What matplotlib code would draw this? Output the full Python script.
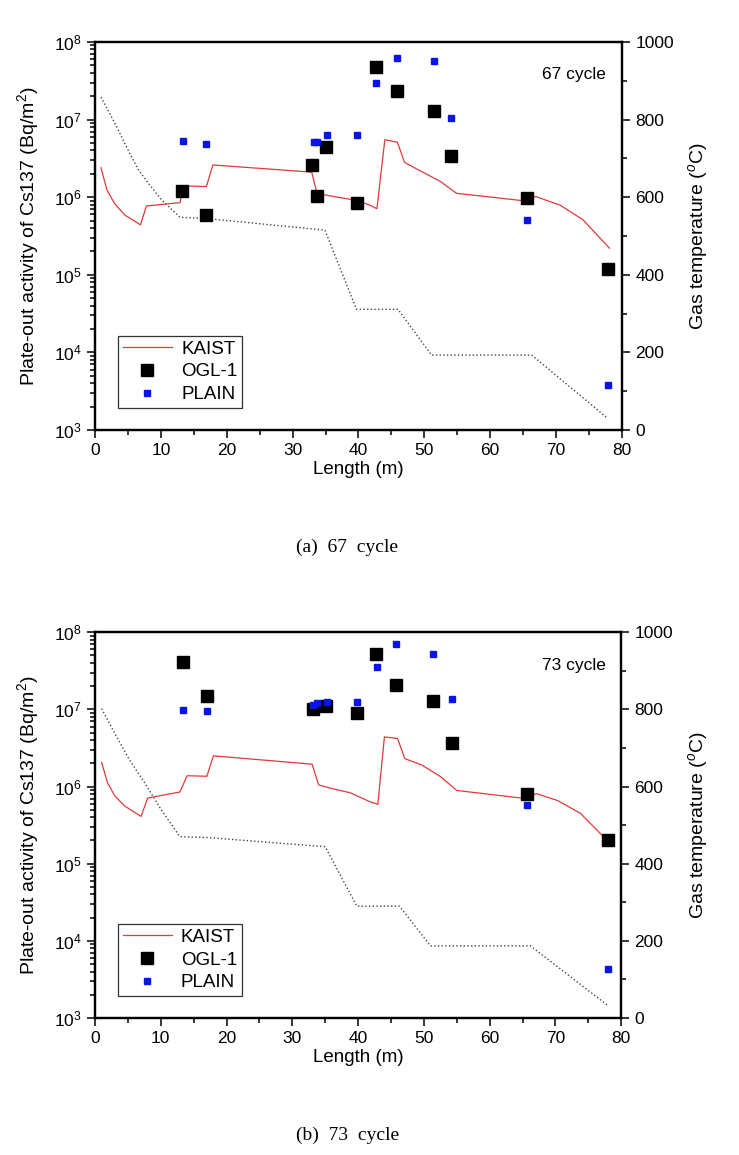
import numpy as np
import matplotlib
matplotlib.use("Agg")
import matplotlib.pyplot as plt
from matplotlib.ticker import MultipleLocator, LogLocator, FuncFormatter

plt.rcParams["font.family"] = ["Liberation Sans", "DejaVu Sans"]
plt.rcParams["mathtext.fontset"] = "custom"
plt.rcParams["mathtext.rm"] = "Liberation Sans"
plt.rcParams["mathtext.it"] = "Liberation Sans:italic"

# ---- (a) 67 cycle ----
kaist_x_67 = [0.9, 1.8, 3.0, 4.5, 6.9, 7.8, 12.9, 13.4, 16.9, 17.9, 32.9, 33.7, 36.2,
              39.7, 41.7, 42.8, 44.0, 45.9, 47.0, 49.3, 52.4, 54.9, 65.0, 66.9, 70.6, 74.1, 78.1]
kaist_y_67 = [2.4e6, 1.24e6, 8.2e5, 5.9e5, 4.4e5, 7.7e5, 8.5e5, 1.4e6, 1.37e6, 2.6e6, 2.1e6,
              1.12e6, 1.02e6, 9.1e5, 7.9e5, 7.1e5, 5.5e6, 5.1e6, 2.8e6, 2.2e6, 1.6e6, 1.12e6,
              9.0e5, 1.02e6, 7.9e5, 5.1e5, 2.2e5]
ogl_x_67 = [13.25, 16.9, 32.9, 33.7, 35.1, 39.7, 42.6, 45.8, 51.4, 54.1, 65.6, 77.9]
ogl_y_67 = [1.2e6, 5.9e5, 2.6e6, 1.02e6, 4.4e6, 8.5e5, 4.8e7, 2.3e7, 1.29e7, 3.4e6, 9.7e5, 1.2e5]
plain_x_67 = [13.3, 16.9, 33.2, 33.7, 35.2, 39.7, 42.7, 45.8, 51.4, 54.1, 65.6, 77.9]
plain_y_67 = [5.3e6, 4.9e6, 5.2e6, 5.2e6, 6.3e6, 6.3e6, 3.0e7, 6.3e7, 5.7e7, 1.06e7, 5.1e5, 3.8e3]
temp_x_67 = [0.9, 3.0, 5.0, 6.6, 8.1, 10.1, 12.9, 16.9, 34.9, 39.7, 46.0, 51.1, 66.3, 77.7]
temp_y_67 = [858, 791, 722, 670, 636, 593, 548, 545, 515, 311, 311, 193, 193, 32]

# ---- (b) 73 cycle ----
kaist_x_73 = [1.0, 1.9, 3.0, 4.5, 7.0, 8.0, 12.9, 14.0, 17.0, 18.0, 33.0, 34.0, 36.3,
              38.8, 41.9, 43.0, 44.0, 46.0, 47.1, 49.7, 52.5, 55.0, 65.4, 67.1, 70.3, 73.8, 77.4]
kaist_y_73 = [2.05e6, 1.12e6, 7.6e5, 5.6e5, 4.1e5, 7.1e5, 8.5e5, 1.38e6, 1.36e6, 2.5e6, 1.95e6,
              1.05e6, 9.3e5, 8.3e5, 6.3e5, 5.9e5, 4.4e6, 4.2e6, 2.3e6, 1.9e6, 1.35e6, 8.9e5,
              7.0e5, 8.1e5, 6.6e5, 4.5e5, 2.2e5]
ogl_x_73 = [13.4, 17.0, 33.1, 35.1, 39.8, 42.7, 45.8, 51.4, 54.3, 65.7, 78.0]
ogl_y_73 = [4.1e7, 1.48e7, 1.0e7, 1.1e7, 9.0e6, 5.3e7, 2.1e7, 1.3e7, 3.7e6, 8.1e5, 2.0e5]
plain_x_73 = [13.4, 17.0, 33.2, 33.8, 35.3, 39.8, 42.8, 45.8, 51.4, 54.3, 65.7, 78.0]
plain_y_73 = [9.8e6, 9.6e6, 1.13e7, 1.2e7, 1.25e7, 1.25e7, 3.56e7, 7.0e7, 5.2e7, 1.35e7, 5.7e5, 4.3e3]
temp_x_73 = [1.0, 3.0, 5.1, 7.6, 10.1, 12.9, 17.0, 35.0, 39.8, 46.3, 51.0, 66.2, 78.0]
temp_y_73 = [802, 738, 673, 608, 539, 470, 468, 444, 290, 290, 187, 187, 32]

fig = plt.figure(figsize=(7.39, 11.55), dpi=100)


def draw_panel(rect, kx, ky, ox, oy, px, py, tx, ty, cycle_text, caption, cap_y):
    ax = fig.add_axes(rect)
    ax.plot(kx, ky, color="#e03a3a", lw=0.9, label="KAIST")
    ax.plot(ox, oy, ls="none", marker="s", ms=8.5, color="black", label="OGL-1")
    ax.plot(px, py, ls="none", marker="s", ms=5, color="#0a14e6", label="PLAIN")
    ax.set_yscale("log")
    ax.set_xlim(0, 80)
    ax.set_ylim(1e3, 1e8)
    ax.xaxis.set_major_locator(MultipleLocator(10))
    ax.xaxis.set_minor_locator(MultipleLocator(5))
    ax.yaxis.set_major_locator(LogLocator(base=10, numticks=10))
    ax.yaxis.set_minor_locator(LogLocator(base=10, subs=np.arange(2, 10), numticks=10))
    ax.yaxis.set_major_formatter(FuncFormatter(lambda v, p: "$10^{%d}$" % round(np.log10(v))))
    ax.tick_params(which="both", direction="out", top=False, right=False, labelsize=12.5, width=1.1)
    ax.tick_params(which="major", length=6)
    ax.tick_params(which="minor", length=3.5)
    for s in ax.spines.values():
        s.set_linewidth(1.6)
    ax.set_xlabel("Length (m)", fontsize=13.5, labelpad=2)
    ax.set_ylabel("Plate-out activity of Cs137 (Bq/m$^2$)", fontsize=14, labelpad=9)
    ax.text(0.97, 0.915, cycle_text, transform=ax.transAxes, ha="right", va="center", fontsize=12.5)
    leg = ax.legend(loc="lower left", bbox_to_anchor=(0.044, 0.057), fontsize=13.5, frameon=True,
                    fancybox=False, edgecolor="black", handlelength=2.6, borderpad=0.25,
                    labelspacing=0.3, handletextpad=0.5, borderaxespad=0)
    leg.get_frame().set_linewidth(0.9)

    ax2 = ax.twinx()
    ax2.plot(tx, ty, color="#444444", ls=":", lw=1.0)
    ax2.set_ylim(0, 1000)
    ax2.yaxis.set_major_locator(MultipleLocator(200))
    ax2.yaxis.set_minor_locator(MultipleLocator(100))
    ax2.tick_params(which="both", direction="out", labelsize=12.5, width=1.1)
    ax2.tick_params(which="major", length=6)
    ax2.tick_params(which="minor", length=3.5)
    ax2.set_ylabel("Gas temperature ($^o$C)", fontsize=14, labelpad=9)
    for s in ax2.spines.values():
        s.set_linewidth(1.6)
    ax.set_zorder(ax2.get_zorder() + 1)
    ax.patch.set_visible(False)

    fig.text(0.47, cap_y, caption, ha="center", va="center", fontsize=14,
             family=["Liberation Serif", "DejaVu Serif"])


draw_panel([0.1286, 0.6277, 0.713, 0.336], kaist_x_67, kaist_y_67, ogl_x_67, ogl_y_67,
           plain_x_67, plain_y_67, temp_x_67, temp_y_67, "67 cycle", "(a)  67  cycle", 1 - 547 / 1155)
draw_panel([0.1286, 0.1186, 0.712, 0.334], kaist_x_73, kaist_y_73, ogl_x_73, ogl_y_73,
           plain_x_73, plain_y_73, temp_x_73, temp_y_73, "73 cycle", "(b)  73  cycle", 1 - 1135 / 1155)

fig.savefig("out.png", dpi=100)
